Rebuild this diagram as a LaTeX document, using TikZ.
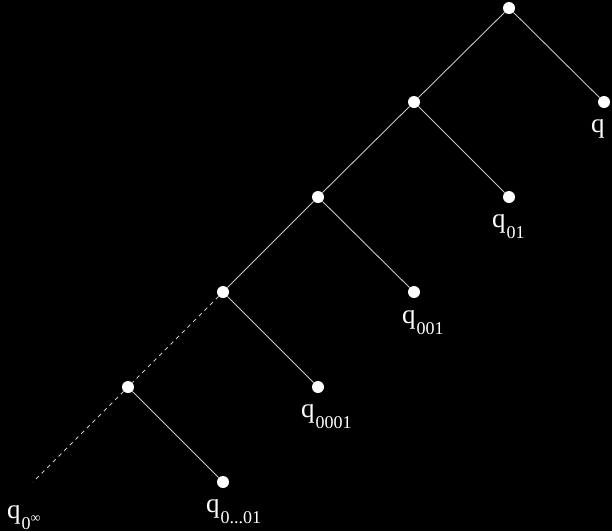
\documentclass[tikz,border=0pt]{standalone}
\usepackage{fontspec}
\setmainfont{Liberation Serif}
\usetikzlibrary{calc}
\tikzset{
  node-dot/.style={circle,fill=white,draw=none,inner sep=0pt,minimum size=12pt},
  node-lbl/.style={text=white,inner sep=0pt,anchor=base west,font=\fontsize{27}{27}\selectfont},
  edge/.style={draw=gray!45!white,line width=0.9pt},
  edge-dash/.style={draw=gray!45!white,line width=0.9pt,dash pattern=on 4pt off 4pt},
}
\newcommand\qsub[1]{q\hspace{1pt}\raisebox{-11pt}{\fontsize{18}{18}\selectfont #1}}

\begin{document}
\begin{tikzpicture}[x=1pt,y=-1pt]
  \fill[black] (0,0) rectangle (612,531);
  \useasboundingbox (0,0) rectangle (612,531);
  % spine
  \node[node-dot] (s0) at (509,8)   {};
  \node[node-dot] (s1) at (414,102) {};
  \node[node-dot] (s2) at (318,197) {};
  \node[node-dot] (s3) at (223,292) {};
  \node[node-dot] (s4) at (128,387) {};
  \coordinate (tail) at (33,482);
  % leaves
  \node[node-dot] (l0) at (604,102) {};
  \node[node-dot] (l1) at (509,197) {};
  \node[node-dot] (l2) at (414,292) {};
  \node[node-dot] (l3) at (318,387) {};
  \node[node-dot] (l4) at (223,482) {};
  \draw[edge] (s0) -- (s1) -- (s2) -- (s3);
  \draw[edge-dash] (s3) -- (s4) -- (tail);
  \draw[edge] (s0) -- (l0);
  \draw[edge] (s1) -- (l1);
  \draw[edge] (s2) -- (l2);
  \draw[edge] (s3) -- (l3);
  \draw[edge] (s4) -- (l4);
  % labels
  \node[node-lbl] (t0) at ($(l0)+(-13,30)$) {q};
  \node[node-lbl] (t1) at ($(l1)+(-17,30)$) {\qsub{01}};
  \node[node-lbl] (t2) at ($(l2)+(-12,31)$) {\qsub{001}};
  \node[node-lbl] (t3) at ($(l3)+(-17,30)$) {\qsub{0001}};
  \node[node-lbl] (t4) at ($(l4)+(-17,30)$) {\qsub{0...01}};
  \node[node-lbl] (tinf) at ($(tail)+(-26,36)$) {\qsub{0\raisebox{7pt}{\fontsize{14}{14}\selectfont ∞}}};
\end{tikzpicture}
\end{document}
